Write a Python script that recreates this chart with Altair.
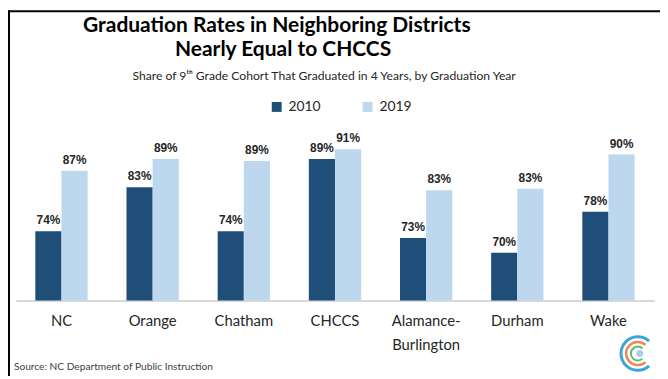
import altair as alt
import pandas as pd

# ---- data ----
districts = ["NC", "Orange", "Chatham", "CHCCS", "Alamance-Burlington", "Durham", "Wake"]
rate_2010 = [74.2, 83.2, 74.2, 89.0, 72.8, 69.8, 78.2]
rate_2019 = [86.6, 89.0, 88.6, 91.0, 82.6, 82.9, 89.9]
years = ["2010", "2019"]
colors = ["#1F4E79", "#BDD7EE"]

title_line1 = "Graduation Rates in Neighboring Districts"
title_line2 = "Nearly Equal to CHCCS"
subtitle = "Share of 9\u1d57\u02b0 Grade Cohort That Graduated in 4 Years, by Graduation Year"
source = "Source: NC Department of Public Instruction"

rows = []
for d, a, b in zip(districts, rate_2010, rate_2019):
    rows.append({"district": d, "year": years[0], "rate": a})
    rows.append({"district": d, "year": years[1], "rate": b})
df = pd.DataFrame(rows)
df["label"] = df["rate"].round().astype(int).astype(str) + "%"

W, H = 646, 173
Y0 = 128.9  # page y of plot top
X0 = 16     # page x of plot left

x_enc = alt.X(
    "district:N", sort=districts,
    scale=alt.Scale(paddingInner=0.426, paddingOuter=0.213),
    axis=alt.Axis(
        title=None, labelAngle=0, labelFont="Lato", labelFontSize=15,
        labelColor="#262626", labelPadding=13, ticks=False,
        domainColor="#D9D9D9", domainWidth=2, labelLineHeight=25,
        labelBaseline="top", labelLimit=200,
        labelExpr="datum.label == 'Alamance-Burlington' ? ['Alamance-', 'Burlington'] : datum.label",
    ),
)
xoff = alt.XOffset("year:N", sort=years, scale=alt.Scale(paddingInner=0, paddingOuter=0))
y_enc = alt.Y("rate:Q", scale=alt.Scale(domain=[60, 95], zero=False, nice=False), axis=None)

base = alt.Chart(df)

bars = base.mark_bar().encode(
    x=x_enc, xOffset=xoff, y=y_enc, y2=alt.datum(60),
    color=alt.Color(
        "year:N", sort=years,
        scale=alt.Scale(domain=years, range=colors),
        legend=alt.Legend(
            title=None, orient="none", legendX=257, legendY=-30,
            direction="horizontal", symbolType="square", symbolSize=100,
            symbolStrokeWidth=0, labelFont="Lato", labelFontSize=14,
            labelColor="#262626", columnPadding=40, labelOffset=5, padding=0,
        ),
    ),
)

labels = base.mark_text(
    font="Liberation Sans", fontWeight="bold", fontSize=12, dy=-4,
    baseline="bottom", align="center", color="#262626",
).encode(x=x_enc, xOffset=xoff, y=y_enc, text="label:N")


def text_layer(txt, px, py, **kw):
    return alt.Chart(pd.DataFrame({"t": [txt]})).mark_text(
        baseline="alphabetic", **kw
    ).encode(x=alt.value(px - X0), y=alt.value(py - Y0), text="t:N")


title1 = text_layer(title_line1, 84, 30, font="Lato", fontWeight="bold",
                    fontSize=21.2, align="left", color="#000000")
title2 = text_layer(title_line2, 177, 54, font="Lato", fontWeight="bold",
                    fontSize=21.2, align="left", color="#000000")
sub = text_layer(subtitle, 134, 79, font="Lato", fontSize=12.3,
                 align="left", color="#262626")
src = text_layer(source, 14, 372, font="Lato", fontSize=10.3,
                 align="left", color="#404040")

border_top = alt.Chart(pd.DataFrame({"a": [0]})).mark_rule(color="#000000", strokeWidth=2).encode(
    x=alt.value(8 - X0), x2=alt.value(668 - X0), y=alt.value(9 - Y0))
border_left = alt.Chart(pd.DataFrame({"a": [0]})).mark_rule(color="#000000", strokeWidth=2).encode(
    x=alt.value(9 - X0), y=alt.value(8 - Y0), y2=alt.value(380 - Y0))

cx, cy = 645.5 - X0, 355.5 - Y0


def ring(r_out, r_in, col):
    return alt.Chart(pd.DataFrame({"a": [0]})).mark_arc(color=col).encode(
        x=alt.value(cx), y=alt.value(cy),
        radius=alt.value(r_out), radius2=alt.value(r_in),
        theta=alt.value(2.40), theta2=alt.value(7.02))


logo_outer = ring(18.5, 15.5, "#3BA6DD")
logo_mid = ring(13, 10.5, "#EE8A4E")
logo_inner = ring(8, 6, "#5DB97E")
logo_dot = alt.Chart(pd.DataFrame({"a": [0]})).mark_arc(color="#A9CDEB").encode(
    x=alt.value(cx + 2), y=alt.value(cy), radius=alt.value(3.5),
    theta=alt.value(0), theta2=alt.value(6.2832))

chart = alt.layer(
    bars, labels, title1, title2, sub, src, border_top, border_left,
    logo_outer, logo_mid, logo_inner, logo_dot,
).properties(
    width=W, height=H,
    autosize=alt.AutoSizeParams(type="none"),
    padding={"left": 8, "top": Y0 - 8, "right": 6, "bottom": 368 - (Y0 - 8) - H},
    background="white",
).configure_view(stroke=None)

chart.save("out.html", embed_options={"renderer": "svg", "actions": False})
